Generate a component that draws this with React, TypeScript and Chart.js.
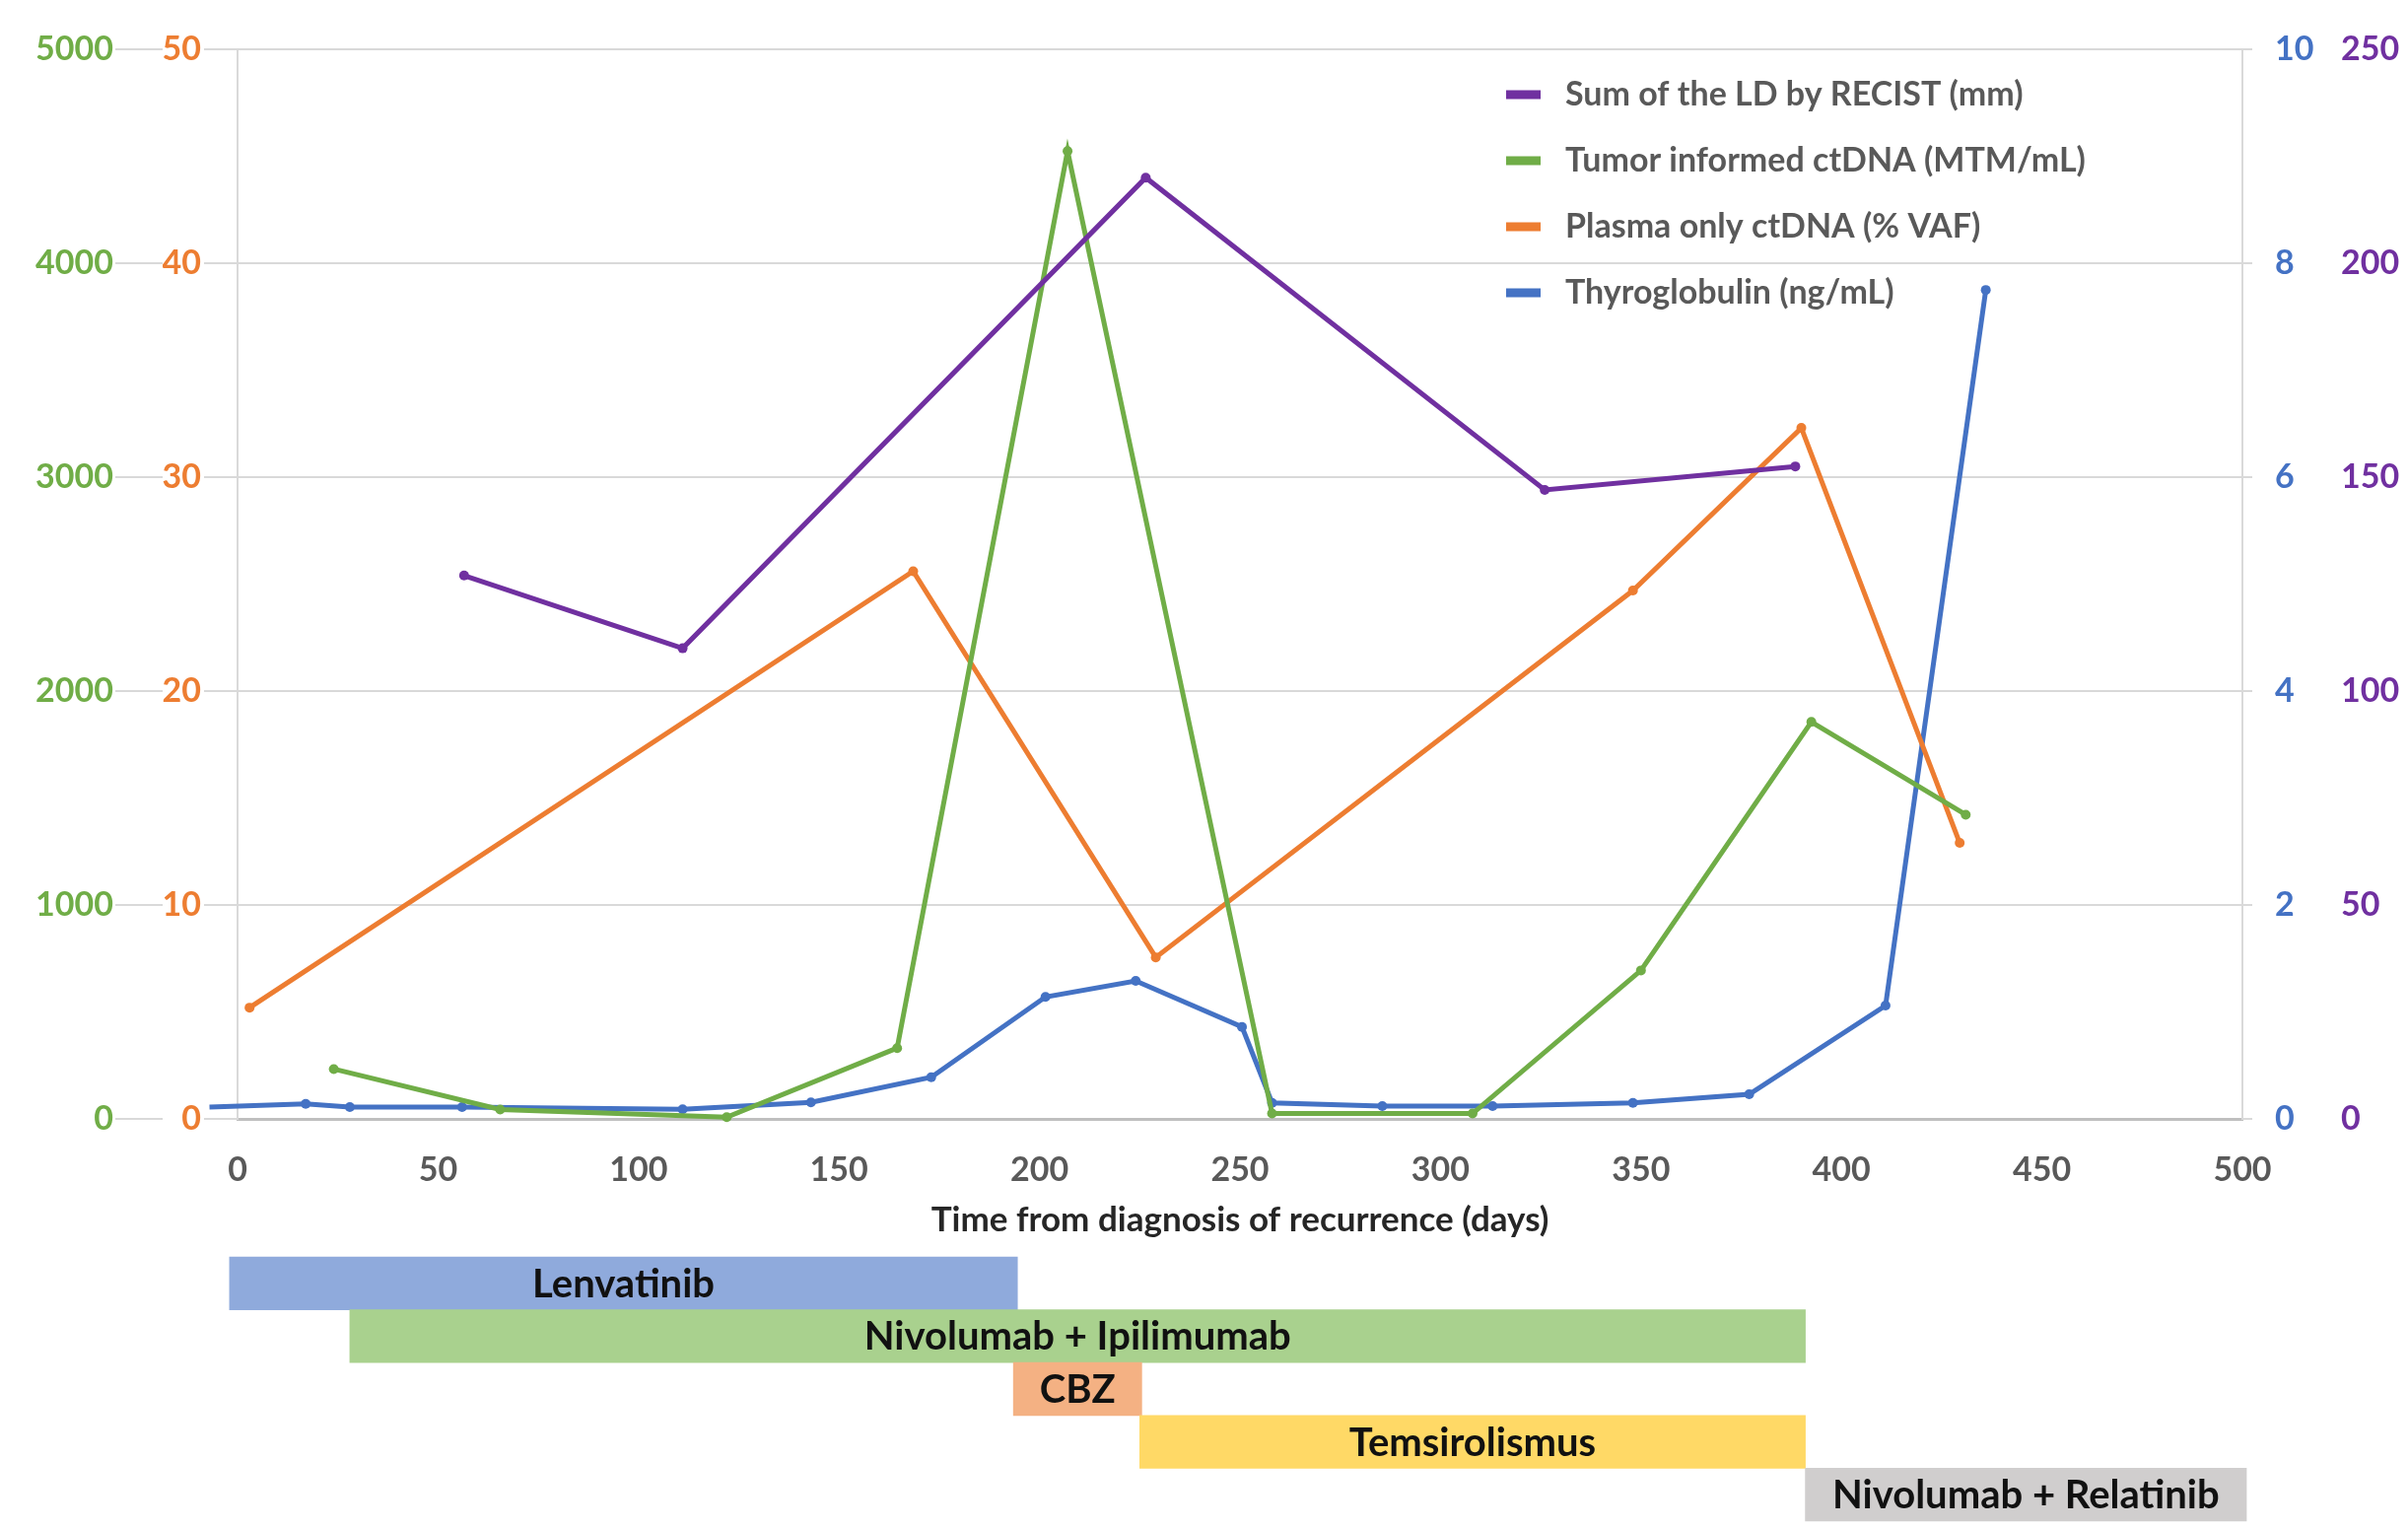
import React, { useEffect, useRef } from 'react';
import { Chart, registerables } from 'chart.js';

Chart.register(...registerables);

const FONT = 'Lato, "Open Sans", sans-serif';

// ---- Data ----
const seriesLabels = [
  'Sum of the LD by RECIST (mm)',
  'Tumor informed ctDNA (MTM/mL)',
  'Plasma only ctDNA (% VAF)',
  'Thyroglobulin (ng/mL)',
];
const seriesColors = ['#7030A0', '#70AD47', '#ED7D31', '#4472C4'];

const recistDays = [56.5, 111, 226.5, 326, 388.5];
const recistValues = [127, 110, 220, 147, 152.5];

const tumorDays = [24, 65.5, 122, 164.5, 207, 258, 308, 350, 392.5, 431];
const tumorValues = [233, 44, 8, 331, 4524, 25, 25, 694, 1856, 1422];

const plasmaDays = [3, 168.5, 229, 348, 390, 429.5];
const plasmaValues = [5.2, 25.6, 7.55, 24.7, 32.3, 12.9];

const thyroDays = [-7, 17, 28, 56, 111, 143, 173, 201.5, 224, 250.5, 258, 285.5, 313, 348, 377, 411, 436];
const thyroValues = [0.11, 0.14, 0.11, 0.11, 0.09, 0.155, 0.39, 1.14, 1.29, 0.86, 0.15, 0.12, 0.12, 0.15, 0.23, 1.06, 7.75];

const xMin = 0;
const xMax = 500;
const xStep = 50;
const xTitle = 'Time from diagnosis of recurrence (days)';

const tumorAxis = { min: 0, max: 5000, step: 1000 };
const plasmaAxis = { min: 0, max: 50, step: 10 };
const thyroAxis = { min: 0, max: 10, step: 2 };
const recistAxis = { min: 0, max: 250, step: 50 };

const treatmentNames = ['Lenvatinib', 'Nivolumab + Ipilimumab', 'CBZ', 'Temsirolismus', 'Nivolumab + Relatinib'];
const treatmentStart = [-2, 28, 193.5, 225, 391];
const treatmentEnd = [194.5, 391, 225.5, 391, 501];
const treatmentColors = ['#8FAADC', '#A9D18E', '#F4B183', '#FFD966', '#D0CECE'];

// ---- Plugins ----
const insideLegend = {
  id: 'insideLegend',
  afterDraw(chart: any, _args: any, opts: any) {
    const { ctx } = chart;
    ctx.save();
    ctx.font = `bold ${opts.size}px ${FONT}`;
    ctx.textBaseline = 'middle';
    ctx.textAlign = 'left';
    chart.data.datasets.forEach((ds: any, i: number) => {
      const y = opts.y + i * opts.gap;
      ctx.fillStyle = ds.borderColor;
      ctx.fillRect(opts.x, y - opts.markerH / 2, opts.markerW, opts.markerH);
      ctx.fillStyle = opts.color;
      ctx.fillText(ds.label, opts.textX, y);
    });
    ctx.restore();
  },
};

const barLabels = {
  id: 'barLabels',
  afterDatasetsDraw(chart: any, _args: any, opts: any) {
    const { ctx } = chart;
    const meta = chart.getDatasetMeta(0);
    ctx.save();
    ctx.font = `bold ${opts.size}px ${FONT}`;
    ctx.fillStyle = opts.color;
    ctx.textAlign = 'center';
    ctx.textBaseline = 'middle';
    meta.data.forEach((el: any, i: number) => {
      const { x, y, base } = el.getProps(['x', 'y', 'base'], true);
      ctx.fillText(chart.data.labels[i], (x + base) / 2, y + 1);
    });
    ctx.restore();
  },
};

const toXY = (xs: number[], ys: number[]) => xs.map((x, i) => ({ x, y: ys[i] }));

const GRID = '#D9D9D9';
const tickFont = { family: FONT, size: 34, weight: 'bold' as const };

export default function App() {
  const topRef = useRef<HTMLCanvasElement>(null);
  const botRef = useRef<HTMLCanvasElement>(null);

  useEffect(() => {
    document.body.style.margin = '0';
    const mkLine = (i: number, xs: number[], ys: number[], axis: string) => ({
      label: seriesLabels[i],
      data: toXY(xs, ys),
      yAxisID: axis,
      borderColor: seriesColors[i],
      backgroundColor: seriesColors[i],
      pointBackgroundColor: seriesColors[i],
      pointBorderWidth: 0,
      pointRadius: 5,
      borderWidth: 5,
      tension: 0,
      clip: false,
    });

    const top = new Chart(topRef.current!, {
      type: 'line',
      data: {
        datasets: [
          mkLine(0, recistDays, recistValues, 'yP'),
          mkLine(1, tumorDays, tumorValues, 'yG'),
          mkLine(2, plasmaDays, plasmaValues, 'yO'),
          mkLine(3, thyroDays, thyroValues, 'yB'),
        ],
      },
      options: {
        animation: false,
        responsive: true,
        maintainAspectRatio: false,
        layout: { padding: { top: 50, bottom: 3, left: 0, right: 0 } },
        plugins: {
          legend: { display: false },
          tooltip: { enabled: false },
          insideLegend: { x: 1528, textX: 1588, y: 96, gap: 67, markerW: 35, markerH: 9, size: 34, color: '#595959' },
        } as any,
        scales: {
          x: {
            type: 'linear',
            min: xMin,
            max: xMax,
            ticks: { stepSize: xStep, color: '#595959', font: tickFont, padding: 32, callback: (v: any) => String(v) },
            grid: { display: false, drawTicks: false },
            border: { display: true, color: '#BFBFBF', width: 3 },
            title: { display: true, text: xTitle, color: '#262626', font: { family: FONT, size: 35, weight: 'bold' }, padding: { top: 0, bottom: 0 } },
            afterFit: (s: any) => { s.height = 124; },
          },
          yO: {
            type: 'linear',
            position: 'left',
            weight: 1,
            min: plasmaAxis.min,
            max: plasmaAxis.max,
            ticks: { stepSize: plasmaAxis.step, color: seriesColors[2], font: tickFont, padding: 3, callback: (v: any) => String(v) },
            grid: { color: GRID, lineWidth: 2, tickLength: 34, drawOnChartArea: true },
            border: { display: true, color: GRID, width: 2 },
            afterFit: (s: any) => { s.width = 76; },
          },
          yG: {
            type: 'linear',
            position: 'left',
            weight: 2,
            min: tumorAxis.min,
            max: tumorAxis.max,
            ticks: { stepSize: tumorAxis.step, color: seriesColors[1], font: tickFont, padding: 2, callback: (v: any) => String(v) },
            grid: { color: GRID, lineWidth: 2, tickLength: 48, drawOnChartArea: false },
            border: { display: false },
            afterFit: (s: any) => { s.width = 165; },
          },
          yB: {
            type: 'linear',
            position: 'right',
            weight: 1,
            min: thyroAxis.min,
            max: thyroAxis.max,
            ticks: { stepSize: thyroAxis.step, color: seriesColors[3], font: tickFont, padding: 23, callback: (v: any) => String(v) },
            grid: { color: GRID, lineWidth: 2, tickLength: 10, drawOnChartArea: false },
            border: { display: true, color: GRID, width: 2 },
            afterFit: (s: any) => { s.width = 90; },
          },
          yP: {
            type: 'linear',
            position: 'right',
            weight: 2,
            min: recistAxis.min,
            max: recistAxis.max,
            ticks: { stepSize: recistAxis.step, color: seriesColors[0], font: tickFont, padding: 10, callback: (v: any) => String(v) },
            grid: { display: false, drawTicks: false, drawOnChartArea: false },
            border: { display: false },
            afterFit: (s: any) => { s.width = 78; },
          },
        } as any,
      },
      plugins: [insideLegend],
    });

    const bottom = new Chart(botRef.current!, {
      type: 'bar',
      data: {
        labels: treatmentNames,
        datasets: [
          {
            data: treatmentNames.map((_, i) => [treatmentStart[i], treatmentEnd[i]]) as any,
            backgroundColor: treatmentColors,
            borderWidth: 0,
            barPercentage: 1,
            categoryPercentage: 1,
            clip: false as any,
          },
        ],
      },
      options: {
        animation: false,
        responsive: true,
        maintainAspectRatio: false,
        indexAxis: 'y',
        layout: { padding: { left: 241, right: 168, top: 13, bottom: 8 } },
        plugins: {
          legend: { display: false },
          tooltip: { enabled: false },
          barLabels: { size: 40, color: '#111111' },
        } as any,
        scales: {
          x: { type: 'linear', min: xMin, max: xMax, display: false },
          y: { type: 'category', display: false },
        },
      },
      plugins: [barLabels],
    });

    return () => {
      top.destroy();
      bottom.destroy();
    };
  }, []);

  return (
    <div style={{ position: 'absolute', left: 0, top: 0, width: 2443, height: 1551, background: '#fff', overflow: 'hidden' }}>
      <div style={{ position: 'absolute', left: 0, top: 0, width: 2443, height: 1262 }}>
        <canvas ref={topRef} />
      </div>
      <div style={{ position: 'absolute', left: 0, top: 1262, width: 2443, height: 289 }}>
        <canvas ref={botRef} />
      </div>
    </div>
  );
}
